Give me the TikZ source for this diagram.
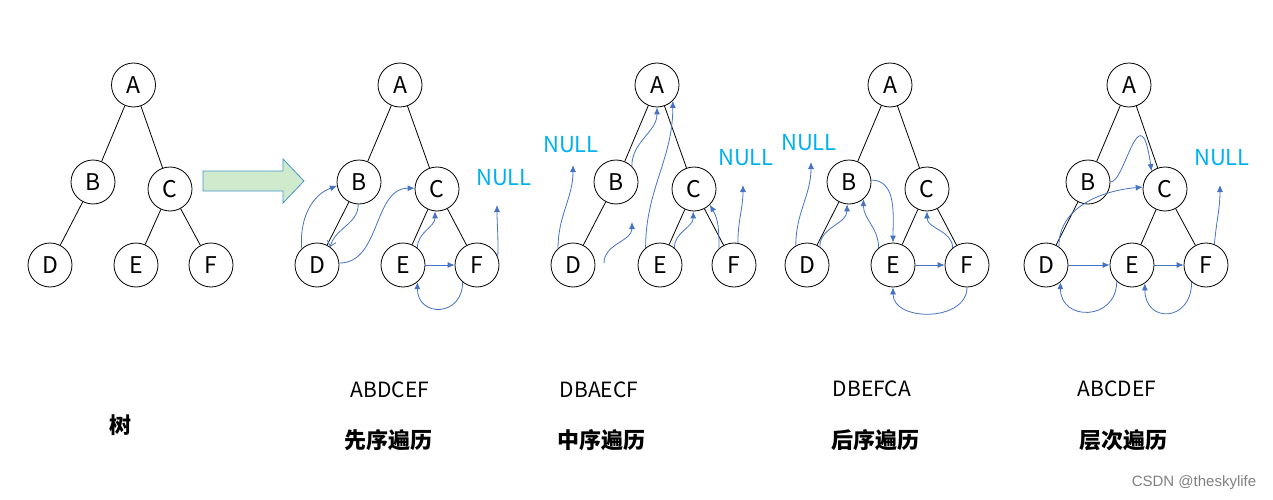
\documentclass[tikz,border=0pt]{standalone}
\usepackage{fontspec}
\setmainfont{Noto Sans CJK SC}
\newfontfamily\wmfont{Liberation Sans}
\usetikzlibrary{arrows.meta}
\definecolor{blu}{RGB}{68,114,196}
\definecolor{nul}{RGB}{0,176,240}
\definecolor{arrfill}{RGB}{208,234,206}
\definecolor{arrdraw}{RGB}{65,150,200}
\begin{document}
\begin{tikzpicture}[x=1pt,y=1pt,
 vtx/.style={circle,draw,line width=0.8pt,minimum size=44pt,inner sep=0pt,font=\fontsize{23}{23}\selectfont},
 edge/.style={line width=0.8pt},
 trav/.style={blu,line width=0.8pt,-{Latex[length=7pt,width=6pt]}},
 nulltxt/.style={nul,font=\fontsize{22}{22}\selectfont},
 seq/.style={font=\fontsize{21}{21}\selectfont},
 title/.style={font=\bfseries\fontsize{22}{22}\selectfont}]
\useasboundingbox (0,0) rectangle (1273,-500);
% tree 1
\node[vtx] (aA) at (133.5,-85) {A};
\node[vtx] (aB) at (93,-182) {B};
\node[vtx] (aC) at (170,-189) {C};
\node[vtx] (aD) at (50,-265) {D};
\node[vtx] (aE) at (136,-265) {E};
\node[vtx] (aF) at (211,-265) {F};
% tree 2
\node[vtx] (pA) at (400,-85) {A};
\node[vtx] (pB) at (359,-182) {B};
\node[vtx] (pC) at (437,-189) {C};
\node[vtx] (pD) at (317,-265) {D};
\node[vtx] (pE) at (403,-265) {E};
\node[vtx] (pF) at (477,-265) {F};
% tree 3
\node[vtx] (iA) at (657,-85) {A};
\node[vtx] (iB) at (616,-182) {B};
\node[vtx] (iC) at (694,-189) {C};
\node[vtx] (iD) at (573,-265) {D};
\node[vtx] (iE) at (660,-265) {E};
\node[vtx] (iF) at (734,-265) {F};
% tree 4
\node[vtx] (oA) at (890,-85) {A};
\node[vtx] (oB) at (849,-182) {B};
\node[vtx] (oC) at (927,-189) {C};
\node[vtx] (oD) at (807,-265) {D};
\node[vtx] (oE) at (893,-265) {E};
\node[vtx] (oF) at (967,-265) {F};
% tree 5
\node[vtx] (lA) at (1129,-85) {A};
\node[vtx] (lB) at (1088,-182) {B};
\node[vtx] (lC) at (1165,-189) {C};
\node[vtx] (lD) at (1046,-265) {D};
\node[vtx] (lE) at (1132,-265) {E};
\node[vtx] (lF) at (1206,-265) {F};
\foreach \t in {a,p,i,o,l}{
  \draw[edge] (\t A) -- (\t B);
  \draw[edge] (\t A) -- (\t C);
  \draw[edge] (\t B) -- (\t D);
  \draw[edge] (\t C) -- (\t E);
  \draw[edge] (\t C) -- (\t F);
}
% big arrow
\draw[arrdraw,fill=arrfill,line width=0.8pt] (203,-171) -- (283,-171) -- (283,-159) -- (304,-181) -- (283,-203) -- (283,-191) -- (203,-191) -- cycle;
% tree 2 traversal
\node[nulltxt] (pnull) at (504,-178) {NULL};
\draw[trav] (pD.133) to[out=95,in=200] (pB.190);
\draw[blu,line width=0.8pt,-{Straight Barb[length=5pt,width=9pt]}] (pB.-92) to[out=-90,in=75] (pD.54);
\draw[trav] (pD.5) to[out=0,in=180] (pC.178);
\draw[trav] (pE.50) to[out=90,in=-90] (pC.-95);
\draw[trav] (pE) -- (pF);
\draw[trav] (pF.-130) to[out=-90,in=-90,looseness=2] (pE.-50);
\coordinate (pN) at (497,-205);
\draw[trav] (pF.22) to[out=88,in=-90] (pN);
% tree 3 traversal
\node[nulltxt] (inull1) at (571,-145) {NULL};
\node[nulltxt] (inull2) at (746,-158) {NULL};
\coordinate (iN1) at (573,-165);
\draw[trav] (iD.132) to[out=90,in=-90] (iN1);
\draw[trav] (iB.45) to[out=90,in=-90] (iA.-90);
\coordinate (iX0) at (604,-263);
\coordinate (iX1) at (632,-222);
\draw[trav] (iX0) to[out=90,in=-90] (iX1);
\draw[trav] (iE.130) to[out=90,in=-90] (iA.-45);
\draw[trav] (iE.50) to[out=90,in=-90] (iC.-92);
\draw[trav] (iF.132) to[out=90,in=-60] (iC.-45);
\coordinate (iN2) at (743,-185);
\draw[trav] (iF.80) to[out=90,in=-90] (iN2);
% tree 4 traversal
\node[nulltxt] (onull) at (809,-143) {NULL};
\coordinate (oN) at (811,-162);
\draw[trav] (oD.120) to[out=90,in=-90] (oN);
\draw[trav] (oD.55) to[out=90,in=-90] (oB.-95);
\draw[trav] (oE.130) to[out=90,in=-90] (oB.-50);
\draw[trav] (oB.5) to[out=0,in=90] (oE.90);
\draw[trav] (oE) -- (oF);
\draw[trav] (oF.130) to[out=90,in=-90] (oC.-90);
\draw[trav] (oF.-90) to[out=-90,in=-90,looseness=1.2] (oE.-90);
% tree 5 traversal
\node[nulltxt] (lnull) at (1222,-158) {NULL};
\draw[trav] (lB.0) .. controls (1125,-183) and (1140,-90) .. (lC.127);
\draw[trav] (lD.55) to[out=90,in=185] (lC.175);
\draw[trav] (lD) -- (lE);
\draw[trav] (lE) -- (lF);
\draw[trav] (lE.-133) to[out=-90,in=-90,looseness=1.8] (lD.-50);
\draw[trav] (lF.-130) to[out=-90,in=-90,looseness=2.2] (lE.-55);
\coordinate (lN) at (1220,-185);
\draw[trav] (lF.68) to[out=85,in=-90] (lN);
% labels
\node[title] (t0) at (120,-425) {树};
\node[seq] (s1) at (390,-390) {ABDCEF};
\node[title] (t1) at (388,-440) {先序遍历};
\node[seq] (s2) at (599,-390) {DBAECF};
\node[title] (t2) at (601,-440) {中序遍历};
\node[seq] (s3) at (872,-389) {DBEFCA};
\node[title] (t3) at (875,-440) {后序遍历};
\node[seq] (s4) at (1117,-389) {ABCDEF};
\node[title] (t4) at (1123,-440) {层次遍历};
\node[gray,font=\wmfont\fontsize{15}{15}\selectfont] (wm) at (1194,-483) {CSDN @theskylife};
\end{tikzpicture}
\end{document}
